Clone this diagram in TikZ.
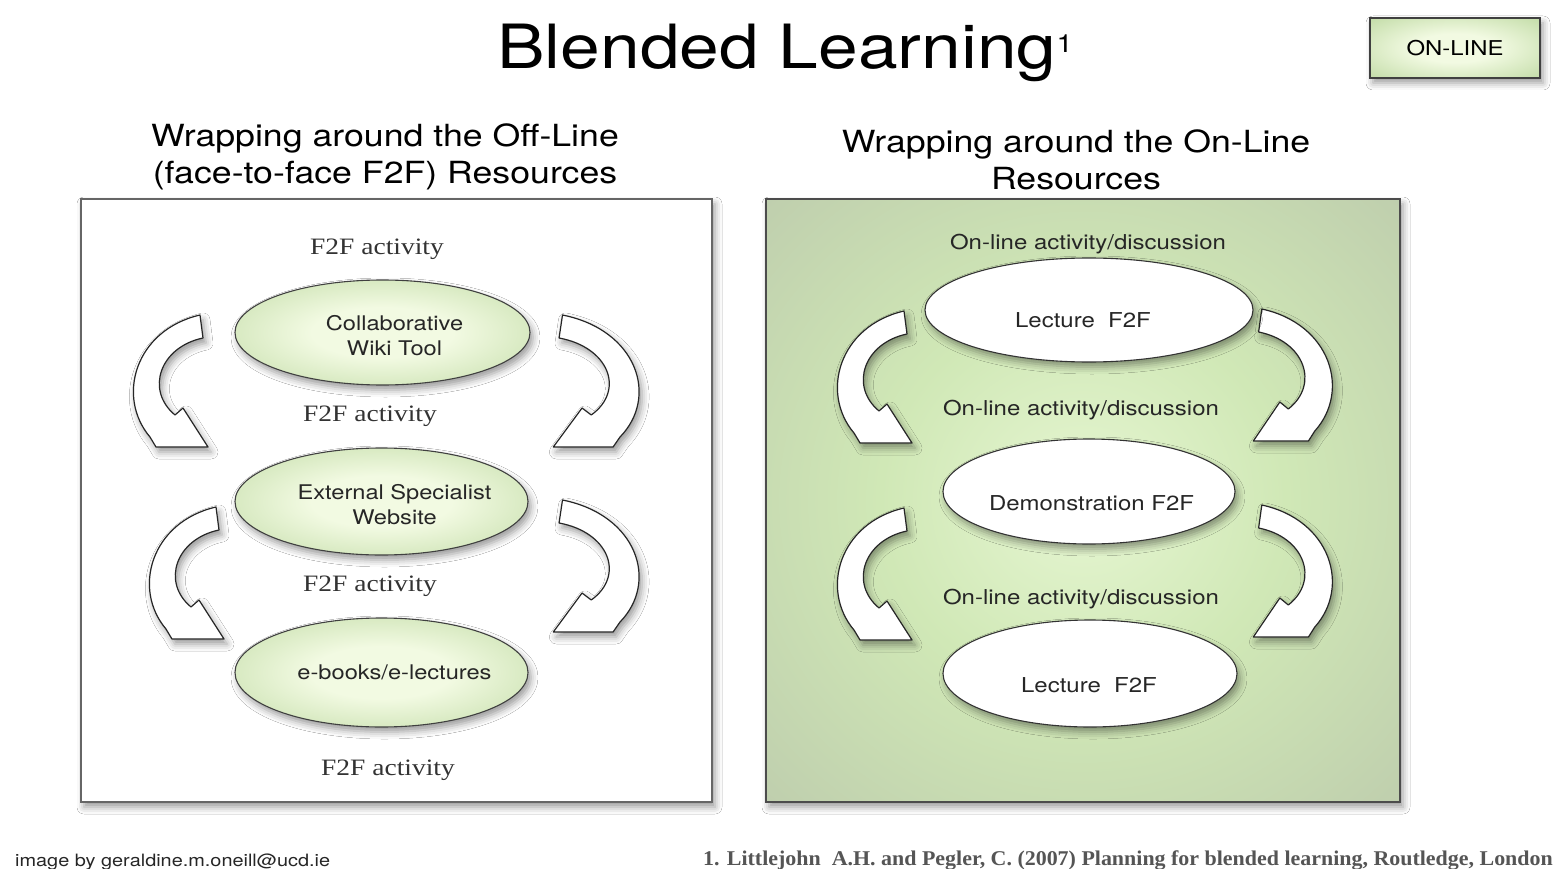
\documentclass[tikz,border=0pt]{standalone}
\usepackage{fontspec}
\setmainfont{Liberation Serif}[FakeStretch=1.17]
\setsansfont{TeX Gyre Heros}[FakeStretch=1.17]
\newfontfamily\citefont{Liberation Serif}[FakeStretch=1.045]
\usetikzlibrary{shapes.geometric,shadows,shadows.blur}

\definecolor{leafpale}{RGB}{242,250,226}
\definecolor{leafgreen}{RGB}{166,202,132}
\definecolor{boxcenter}{RGB}{230,246,210}
\definecolor{boxmid}{RGB}{208,232,182}
\definecolor{boxedge}{RGB}{180,190,168}
\definecolor{citegray}{RGB}{85,85,85}
\pgfdeclareradialshading{leafglow}{\pgfpoint{0bp}{0bp}}{color(0bp)=(leafpale); color(12bp)=(leafpale); color(50bp)=(leafgreen); color(72bp)=(leafgreen)}
\pgfdeclareradialshading{boxglow}{\pgfpoint{0bp}{0bp}}{color(0bp)=(boxcenter); color(16bp)=(boxmid); color(48bp)=(boxedge); color(72bp)=(boxedge)}

\begin{document}
\begin{tikzpicture}[x=1pt, y=-1pt,
  every node/.style={inner sep=0pt},
  softshadow/.style={blur shadow={shadow xshift=3pt, shadow yshift=-5pt, shadow blur radius=7pt, shadow opacity=40}},
  heading/.style={align=center, font=\sffamily\fontsize{30.5}{37}\selectfont},
  f2f/.style={anchor=base, font=\fontsize{23.5}{28}\selectfont, text=black!80},
  discuss/.style={anchor=base, font=\sffamily\fontsize{20.5}{24}\selectfont, text=black!85},
  leaf/.style={ellipse, draw=black!75, line width=1.1pt, shading=leafglow, softshadow},
  leaftext/.style={align=center, font=\sffamily\fontsize{20.2}{24.5}\selectfont, text=black!85},
  lecture/.style={ellipse, draw=black!80, line width=1.1pt, fill=white, softshadow},
  lecturetext/.style={anchor=base, font=\sffamily\fontsize{20.5}{24}\selectfont, text=black!85},
  arrowbody/.style={draw=black!85, line width=1.2pt, fill=white, line join=round, softshadow},
  curlarrow/.pic={
    \path[arrowbody] (26,132) -- (20,122) .. controls (-14,82) and (5,15) .. (70,0)
      -- (73,23) .. controls (30,32) and (15,75) .. (45,100) -- (53,93) -- (78,132) -- cycle;
  }]

\fill[white] (0,0) rectangle (1557,869);
\useasboundingbox (0,0) rectangle (1557,869);

% Title and tag
\node[anchor=base west, font=\sffamily\fontsize{61}{70}\selectfont] (title) at (497,69)
  {Blended Learning\raisebox{16pt}{\fontsize{25}{25}\selectfont 1}};
\node[draw=black!75, line width=1.5pt, shading=leafglow, softshadow, minimum width=170, minimum height=60,
  font=\sffamily\fontsize{20.4}{24}\selectfont] (tag) at (1455,48) {ON-LINE};

% LEFT DIAGRAM

\node[heading] (offhead) at (385,156.5) {Wrapping around the Off-Line\\(face-to-face F2F) Resources};
\node[draw=black!60, line width=1.2pt, fill=white, softshadow, minimum width=631, minimum height=603] (offbox) at (396.5,500.5) {};

% Arrows
\pic at (130,315) {curlarrow};
\pic at (146,507) {curlarrow};
\pic[xscale=-1.15] at (643,315) {curlarrow};
\pic[xscale=-1.15] at (643,500) {curlarrow};

% Resources
\node[leaf, minimum width=295, minimum height=105] (wiki) at (382.5,332.5) {};
\node[leaf, minimum width=293, minimum height=107] (website) at (381.5,501.5) {};
\node[leaf, minimum width=293, minimum height=109] (ebooks) at (381.5,672.5) {};
\node[leaftext] (wikitext) at ([xshift=12pt, yshift=-3pt]wiki.center) {Collaborative\\Wiki Tool};
\node[leaftext] (websitetext) at ([xshift=13pt, yshift=-3pt]website.center) {External Specialist\\Website};
\node[leaftext] (ebookstext) at ([xshift=13pt]ebooks.center) {e-books/e-lectures};

% Activities
\node[f2f] (act1) at (377,254) {F2F activity};
\node[f2f] (act2) at (370,421) {F2F activity};
\node[f2f] (act3) at (370,591) {F2F activity};
\node[f2f] (act4) at (388,775) {F2F activity};

% RIGHT DIAGRAM

\node[heading] (onhead) at (1076,159.5) {Wrapping around the On-Line\\Resources};
\node[draw=black!70, line width=1.6pt, shading=boxglow, softshadow, minimum width=634, minimum height=603] (onbox) at (1083,500.5) {};

% Arrows
\pic at (834,311) {curlarrow};
\pic at (834,508) {curlarrow};
\pic[xscale=-1.06] at (1336,309) {curlarrow};
\pic[xscale=-1.06] at (1336,505) {curlarrow};

% Face-to-face sessions
\node[lecture, minimum width=328, minimum height=104] (lect1) at (1089,310) {};
\node[lecture, minimum width=292, minimum height=105] (demo) at (1089,491.5) {};
\node[lecture, minimum width=294, minimum height=107] (lect2) at (1090,673.5) {};
\node[lecturetext] (lect1text) at (1083,327) {Lecture\ \ F2F};
\node[lecturetext] (demotext) at (1091.5,510) {Demonstration F2F};
\node[lecturetext] (lect2text) at (1089,692) {Lecture\ \ F2F};

% Discussions
\node[discuss] (disc1) at (1088,249) {On-line activity/discussion};
\node[discuss] (disc2) at (1081,415) {On-line activity/discussion};
\node[discuss] (disc3) at (1081,604) {On-line activity/discussion};

% Footer
\node[anchor=base west, font=\sffamily\fontsize{17}{20}\selectfont, text=black!85] (credit) at (15,866) {image by geraldine.m.oneill@ucd.ie};
\node[anchor=base east, font=\citefont\bfseries\fontsize{21}{24}\selectfont, text=citegray] (cite) at (1553,865)
  {1. Littlejohn\ \ A.H. and Pegler, C. (2007) Planning for blended learning, Routledge, London};

\end{tikzpicture}
\end{document}
